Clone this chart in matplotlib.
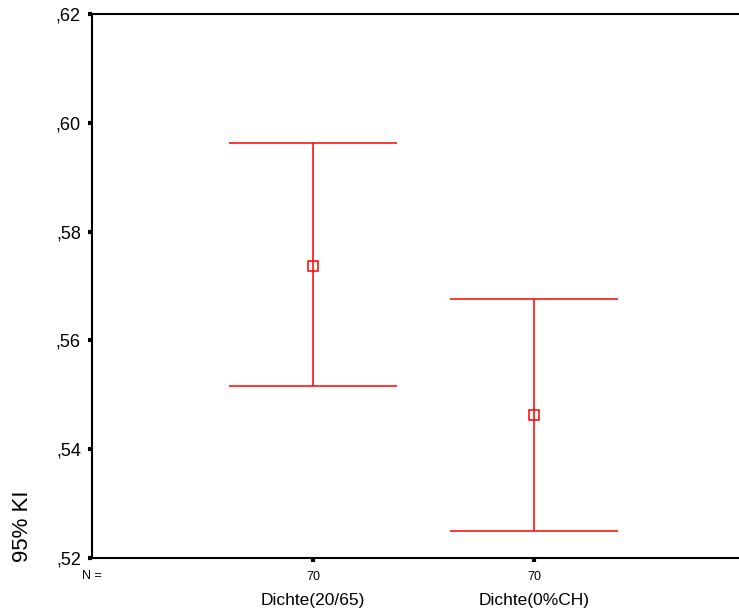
import matplotlib.pyplot as plt
from matplotlib.ticker import FuncFormatter

plt.rcParams['font.family'] = ['Liberation Sans', 'DejaVu Sans']

# data
categories = ['Dichte(20/65)', 'Dichte(0%CH)']
n_values = [70, 70]
means = [0.5737, 0.5463]
upper = [0.5963, 0.5676]
lower = [0.5516, 0.5250]

fig = plt.figure(figsize=(7.39, 6.14), dpi=100)
# axes runs off the right edge of the picture like the original
ax = fig.add_axes([92 / 739, 1 - 558 / 614, 663 / 739, 544 / 614])

xs = [1, 2]
yerr = [[m - lo for m, lo in zip(means, lower)], [hi - m for m, hi in zip(means, upper)]]
ax.errorbar(xs, means, yerr=yerr, fmt='s', color='red', ecolor='red', elinewidth=1.1,
            capsize=60.5, capthick=1.1, markersize=7, markerfacecolor='none',
            markeredgewidth=1.1)

ax.set_xlim(0, 3)
ax.set_ylim(0.52, 0.62)
ax.set_yticks([0.52, 0.54, 0.56, 0.58, 0.60, 0.62])
ax.yaxis.set_major_formatter(FuncFormatter(lambda v, p: (',%02d' % round(v * 100))))
ax.set_xticks(xs)
ax.set_xticklabels([str(n) for n in n_values], fontsize=9)

ax.spines['right'].set_visible(False)
for s in ['left', 'bottom', 'top']:
    ax.spines[s].set_linewidth(1.5)
ax.tick_params(axis='both', length=3, width=3, direction='out')
ax.tick_params(axis='y', labelsize=13, pad=5)
ax.tick_params(axis='x', pad=6)

# extra labels under the axis
fig.text(92 / 739, 1 - 576 / 614, 'N =', fontsize=9, ha='center', va='center')
for x, c in zip(xs, categories):
    xp = ax.transData.transform((x, 0))[0] / fig.dpi / 7.39
    fig.text(xp, 1 - 600 / 614, c, fontsize=12.5, ha='center', va='center')

fig.text(22 / 739, 1 - 562 / 614, '95% KI', fontsize=16, rotation=90, ha='center', va='bottom')

fig.savefig('out.png', dpi=100)
